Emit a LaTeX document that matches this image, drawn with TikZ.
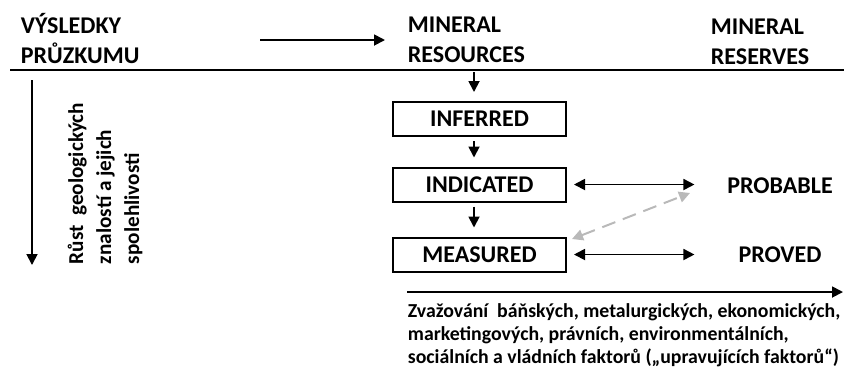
\documentclass[tikz,border=0pt]{standalone}
\usepackage{fontspec}
\setmainfont{Carlito}
\usetikzlibrary{arrows.meta,positioning,calc}
\newcommand{\headfont}{\fontsize{12}{15}\selectfont\bfseries}
\newcommand{\notefont}{\fontsize{9.9}{11.5}\selectfont\bfseries}
\tikzset{
	head/.style={align=left, anchor=base west, inner sep=0pt, font=\headfont},
	stage/.style={draw, line width=1pt, minimum width=86.5pt, minimum height=17pt, inner sep=0pt, font=\headfont},
	reserve/.style={inner sep=0pt, font=\headfont},
	down/.style={->, shorten >=4.5pt},
	hint/.style={<->, gray!55, line width=1pt, dash pattern=on 7pt off 4pt}
}

\begin{document}
\begin{tikzpicture}[x=0.5pt, y=-0.5pt, >={Triangle[length=5.5pt,width=5.5pt]}, line width=0.9pt]
	\useasboundingbox (0,0) rectangle (844,371);
	
	% headings
	\node[head] (vysl) at (20,63) {VÝSLEDKY\\PRŮZKUMU};
	\node[head] (res) at (407,62) {MINERAL\\RESOURCES};
	\node[head] (rsv) at (710,64) {MINERAL\\RESERVES};
	\coordinate (rule w) at (10,70);
	\coordinate (rule e) at (844,70);
	\draw (rule w) -- (rule e);
	\coordinate (tail) at (260,40);
	\draw[->] (tail) -- (tail -| res.west) [shorten >=11pt];
	
	% resources
	\node[stage] (inf) at (479.5,119) {INFERRED};
	\node[stage] (ind) at (479.5,184.5) {INDICATED};
	\node[stage] (mea) at (479.5,254.5) {MEASURED};
	\coordinate (r1) at (474,72);
	\draw[down] (r1) -- ([xshift=-2.75pt]inf.north);
	\draw[down, shorten <=2pt] ([xshift=-2.75pt]inf.south) -- ([xshift=-2.75pt]ind.north);
	\draw[down, shorten <=2pt] ([xshift=-2.75pt]ind.south) -- ([xshift=-2.75pt]mea.north);
	
	% reserves
	\node[reserve] (prob) at (780,186) {PROBABLE};
	\node[reserve] (prov) at (780,255) {PROVED};
	\draw[<->, shorten <=3.5pt, shorten >=16pt] (ind.east) -- (ind.east -| prob.west);
	\draw[<->, shorten <=3.5pt, shorten >=16pt] (mea.east) -- (mea.east -| prob.west);
	\coordinate (gs) at (572,239);
	\coordinate (ge) at (690,193);
	\draw[hint] (gs) -- (ge);
	
	% knowledge axis
	\coordinate (k0) at (32,80);
	\coordinate (k1) at (32,265);
	\draw[->] (k0) -- (k1);
	\node[rotate=90, anchor=west, align=left, inner sep=0pt,
		font=\fontsize{10.6}{14}\selectfont\bfseries] (know) at (105,265)
		{Růst\ \ geologických\\znalostí a jejich\\spolehlivosti};
	
	% modifying factors
	\coordinate (f0) at (407,292);
	\coordinate (f1) at (843,292);
	\draw[->] (f0) -- (f1);
	\node[anchor=north west, align=left, inner sep=0pt, font=\notefont] (fact) at (407,303)
		{Zvažování\ \ báňských, metalurgických, ekonomických,\\
		marketingových, právních, environmentálních,\\
		sociálních a vládních faktorů („upravujících faktorů“)};
\end{tikzpicture}
\end{document}
